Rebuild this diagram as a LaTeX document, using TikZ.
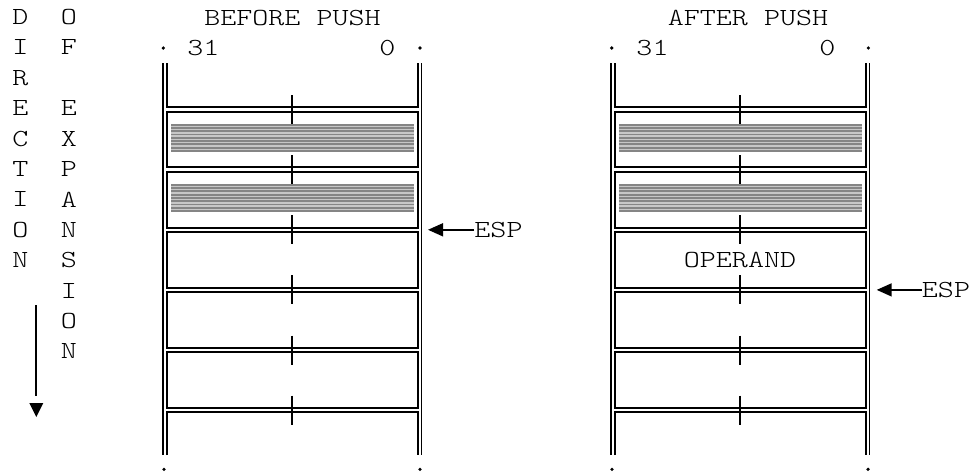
\documentclass[tikz,border=0pt]{standalone}
\usepackage{fontspec}
\newfontfamily\cour{lmmonolt10-regular.otf}[FakeStretch=1.245]
\usetikzlibrary{arrows.meta}
\begin{document}
\begin{tikzpicture}[x=0.75pt,y=-0.75pt,
  txt/.style={font=\cour\fontsize{18.4}{22}\selectfont, inner sep=0pt, anchor=center},
  wall/.style={line width=1.3pt},
  cell/.style={line width=1.5pt},
  tick/.style={line width=1.4pt},
  shadebg/.style={fill=black!22},
  shade/.style={line width=1.4pt, draw=black!48},
  ptr/.style={line width=1.2pt, -{Triangle[length=11.25pt,width=9.75pt]}},
  dotmark/.style={fill=black}]
\useasboundingbox (0,0) rectangle (976,475);

% left legend
\foreach \ch [count=\i from 0] in {D,I,R,E,C,T,I,O,N}
  \node[txt] (dir\i) at (20.5,{17+30.4*\i}) {\ch};
\node[txt] (of0) at (69,17) {O};
\node[txt] (of1) at (69,47.4) {F};
\foreach \ch [count=\i from 3] in {E,X,P,A,N,S,I,O,N}
  \node[txt] (exp\i) at (69,{17+30.4*\i}) {\ch};
\coordinate (dtop) at (36.3,305);
\coordinate (dbot) at (36.3,396);
\draw[wall] (dtop) -- (dbot);
\fill (29.3,403) -- (43.3,403) -- (36.3,417) -- cycle;

% stacks
\foreach \ox in {0,448} {
\begin{scope}[shift={(\ox,0)}]
  \draw[wall] (163,63) -- (163,455);
  \draw[wall] (421.5,63) -- (421.5,455);
  \draw[cell] (167,63) |- (417.5,107.3) -- (417.5,63);
  \foreach \k in {0,...,4} {
    \pgfmathsetmacro{\ya}{109.6+60.1*\k+2.3}
    \pgfmathsetmacro{\yb}{109.6+60.1*(\k+1)-2.3}
    \draw[cell] (167,\ya) rectangle (417.5,\yb);
  }
  \draw[cell] (167,455) |- (417.5,412.4) -- (417.5,455);
  \foreach \k in {0,1} {
    \pgfmathsetmacro{\yt}{109.6+60.1*\k+14}
    \pgfmathsetmacro{\ybt}{109.6+60.1*\k+42.6}
    \fill[shadebg] (171,\yt) rectangle (413.5,\ybt);
    \foreach \r in {0,...,8} {
      \pgfmathsetmacro{\ys}{109.6+60.1*\k+15+3.3*\r}
      \draw[shade] (171,\ys) -- (413.5,\ys);
    }
  }
  \foreach \k in {0,...,5} {
    \pgfmathsetmacro{\yc}{109.6+60.1*\k}
    \draw[tick] (292.3,\yc-14.5) -- (292.3,\yc+14.5);
  }
  \fill[dotmark] (164,469.3) circle (1.8);
  \fill[dotmark] (420,469.3) circle (1.8);
\end{scope}
}

% top labels
\node[txt] (tb) at (292.5,18) {BEFORE PUSH};
\node[txt] (ta) at (748,18) {AFTER PUSH};
\fill[dotmark] (163.3,48) circle (1.8);
\fill[dotmark] (420,48) circle (1.8);
\fill[dotmark] (611.7,48) circle (1.8);
\fill[dotmark] (868.3,48) circle (1.8);
\node[txt] (b31) at (203.3,48) {31};
\node[txt] (b0) at (387.5,48) {0};
\node[txt] (a31) at (652.5,48) {31};
\node[txt] (a0) at (827.5,48) {0};

\node[txt] (op) at (740,260) {OPERAND};

% ESP pointers
\node[txt] (espL) at (498.5,229.8) {ESP};
\coordinate (tipL) at (428,229.8);
\draw[ptr] (tipL -| espL.west) -- (tipL);
\node[txt] (espR) at (946,289.9) {ESP};
\coordinate (tipR) at (876.7,289.9);
\draw[ptr] (tipR -| espR.west) -- (tipR);
\end{tikzpicture}
\end{document}
